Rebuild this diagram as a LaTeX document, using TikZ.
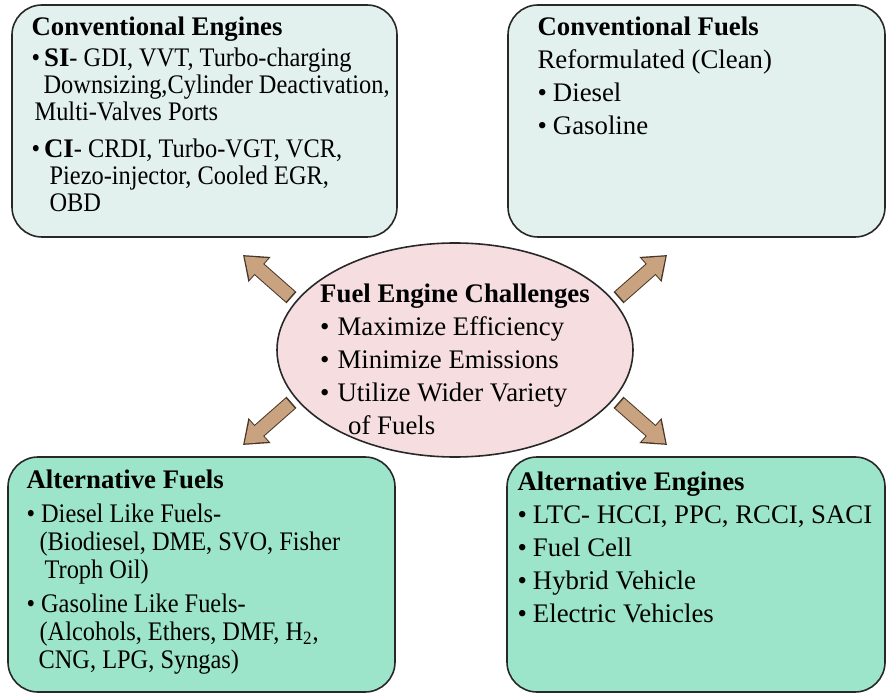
\documentclass[tikz,border=0pt]{standalone}
\usepackage{fontspec}
\setmainfont{Liberation Serif}
\newfontfamily\narrowserif[FakeStretch=0.91]{Liberation Serif}
\usetikzlibrary{shapes.geometric, arrows.meta, positioning, calc}
\definecolor{edgegray}{RGB}{40, 40, 40}
\definecolor{topfill}{RGB}{226, 240, 238}
\definecolor{lowfill}{RGB}{156, 228, 202}
\definecolor{pinkfill}{RGB}{246, 222, 224}
\definecolor{arrowtan}{RGB}{201, 163, 127}
\definecolor{arrowedge}{RGB}{70, 55, 40}

\begin{document}
\begin{tikzpicture}[x=0.5pt, y=-0.5pt,
            topbox/.style={draw=edgegray, line width=0.8pt, fill=topfill, rounded corners=15pt, minimum height=116pt, inner sep=0pt},
            lowbox/.style={topbox, fill=lowfill, minimum height=117.5pt},
            txt/.style={anchor=north west, inner sep=0pt, align=left, font=\fontsize{13.4pt}{16.5pt}\selectfont},
            fat/.style={draw=arrowtan, line width=6.5pt, shorten <=3.5pt, shorten >=1pt, -{Triangle[length=9.5pt, width=13.5pt]},
                preaction={draw=arrowedge, line width=7.5pt, shorten <=2.7pt, shorten >=0pt, -{Triangle[length=11pt, width=16pt]}}}
        ]
            \useasboundingbox (0,0) rectangle (887,694);

            \node[topbox, minimum width=192.5pt] (ceng) at (204.5,121) {};
            \node[topbox, minimum width=188.5pt] (cfuel) at (696.5,121) {};
            \node[lowbox, minimum width=193.5pt] (afuel) at (201.5,574.5) {};
            \node[lowbox, minimum width=189pt] (aeng) at (696,574.5) {};
            \node[ellipse, draw=edgegray, line width=0.8pt, fill=pinkfill, minimum width=178pt, minimum height=107pt, inner sep=0pt] (chal) at (455,350) {};

            \node[txt, font=\fontsize{13.4pt}{13.5pt}\narrowserif] (cengtxt) at ([xshift=10pt, yshift=-6pt]ceng.north west)
                {{\rmfamily\bfseries Conventional Engines}\\[2pt]
                 \textbullet\hspace{2pt}{\rmfamily\bfseries SI}- GDI, VVT, Turbo-charging\\
                 \hspace{6pt}Downsizing,Cylinder Deactivation,\\
                 \hspace{1.5pt}Multi-Valves Ports\\[5pt]
                 \textbullet\hspace{2pt}{\rmfamily\bfseries CI}- CRDI, Turbo-VGT, VCR,\\
                 \hspace{9pt}Piezo-injector, Cooled EGR,\\
                 \hspace{9pt}OBD};
            \node[txt] (cfueltxt) at ([xshift=15pt, yshift=-6pt]cfuel.north west)
                {\textbf{Conventional Fuels}\\
                 Reformulated (Clean)\\
                 \textbullet\hspace{3pt}Diesel\\
                 \textbullet\hspace{3pt}Gasoline};
            \node[txt, font=\fontsize{13.4pt}{14pt}\narrowserif] (afueltxt) at ([xshift=9.5pt, yshift=-6.5pt]afuel.north west)
                {{\rmfamily\bfseries Alternative Fuels}\\[3pt]
                 \textbullet\hspace{3pt}Diesel Like Fuels-\\
                 \hspace{6.5pt}(Biodiesel, DME, SVO, Fisher\\
                 \hspace{9pt}Troph Oil)\\[3pt]
                 \textbullet\hspace{3pt}Gasoline Like Fuels-\\
                 \hspace{6.5pt}(Alcohols, Ethers, DMF, H\textsubscript{2},\\
                 \hspace{6pt}CNG, LPG, Syngas)};
            \node[txt] (aengtxt) at ([xshift=5.5pt, yshift=-7.5pt]aeng.north west)
                {\textbf{Alternative Engines}\\
                 \textbullet\hspace{3pt}LTC- HCCI, PPC, RCCI, SACI\\
                 \textbullet\hspace{3pt}Fuel Cell\\
                 \textbullet\hspace{3pt}Hybrid Vehicle\\
                 \textbullet\hspace{3pt}Electric Vehicles};
            \node[txt, anchor=north] (chaltxt) at ([yshift=33pt]chal.center)
                {\textbf{Fuel Engine Challenges}\\
                 \textbullet\hspace{4pt}Maximize Efficiency\\
                 \textbullet\hspace{4pt}Minimize Emissions\\
                 \textbullet\hspace{4pt}Utilize Wider Variety\\
                 \hspace{14pt}of Fuels};

            \coordinate (tipnw) at (243,255);
            \coordinate (tipne) at (667,255);
            \coordinate (tipsw) at (243,445);
            \coordinate (tipse) at (667,445);

            \draw[fat] (chal.163) -- (tipnw);
            \draw[fat] (chal.17) -- (tipne);
            \draw[fat] (chal.197) -- (tipsw);
            \draw[fat] (chal.343) -- (tipse);
        \end{tikzpicture}
\end{document}
